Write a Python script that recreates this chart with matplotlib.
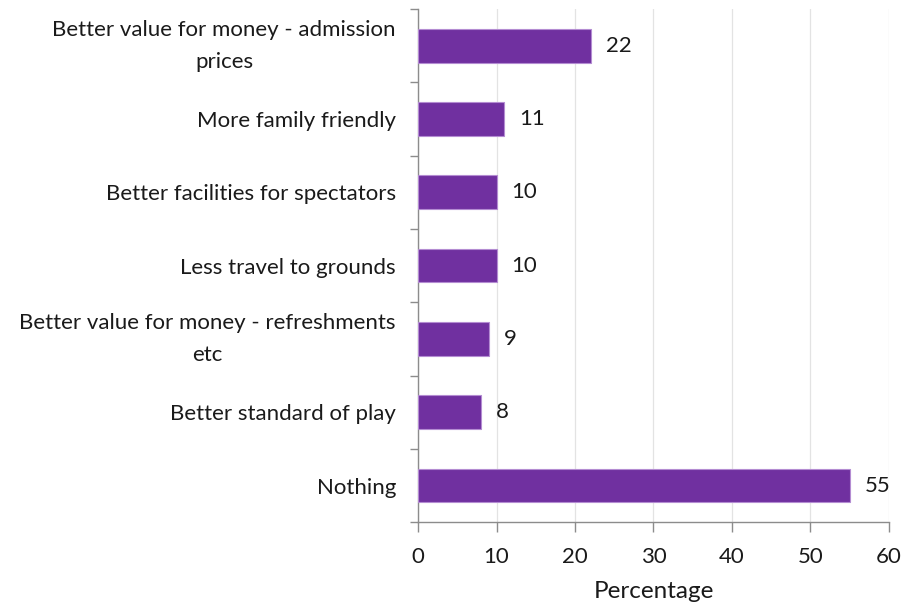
import matplotlib.pyplot as plt
import numpy as np

categories = [
    'Better value for money - admission\nprices',
    'More family friendly',
    'Better facilities for spectators',
    'Less travel to grounds',
    'Better value for money - refreshments\netc',
    'Better standard of play',
    'Nothing',
]
values = [22, 11, 10, 10, 9, 8, 55]

plt.rcParams['font.family'] = ['Lato', 'DejaVu Sans']

fig = plt.figure(figsize=(9.23, 6.03), dpi=100)
ax = fig.add_axes([0.453, 0.134, 0.51, 0.851])

y = np.arange(len(categories))
ax.barh(y, values, height=0.46, color='#7030A0', edgecolor='#B48CD2', linewidth=0.8, zorder=3)
for yi, v in zip(y, values):
    ax.text(v + 1.9, yi, str(v), va='center', ha='left', fontsize=16, color='#1a1a1a')

ax.set_ylim(len(categories) - 0.5, -0.5)
ax.set_xlim(0, 60)
ax.set_xticks(range(0, 61, 10))
ax.set_yticks(y)
ax.set_yticklabels(categories, multialignment='center', linespacing=1.75)
ax.set_yticks(np.arange(-0.5, len(categories), 1), minor=True)
# two-line labels sit centred on their bar
for lab in ax.get_yticklabels():
    if '\n' in lab.get_text():
        lab.set_va('center')

ax.tick_params(axis='y', which='major', length=0, pad=16, labelsize=16, labelcolor='#1a1a1a')
ax.tick_params(axis='y', which='minor', length=6, color='#8c8c8c', width=1)
ax.tick_params(axis='x', length=7, color='#8c8c8c', width=1, labelsize=16, labelcolor='#1a1a1a', pad=11)

ax.grid(axis='x', color='#e3e3e3', linewidth=0.9, zorder=0)
for s in ['top', 'right']:
    ax.spines[s].set_visible(False)
for s in ['left', 'bottom']:
    ax.spines[s].set_color('#8c8c8c')
    ax.spines[s].set_linewidth(1)

ax.set_xlabel('Percentage', fontsize=17.5, color='#1a1a1a', labelpad=10)

fig.savefig('out.png', dpi=100)
